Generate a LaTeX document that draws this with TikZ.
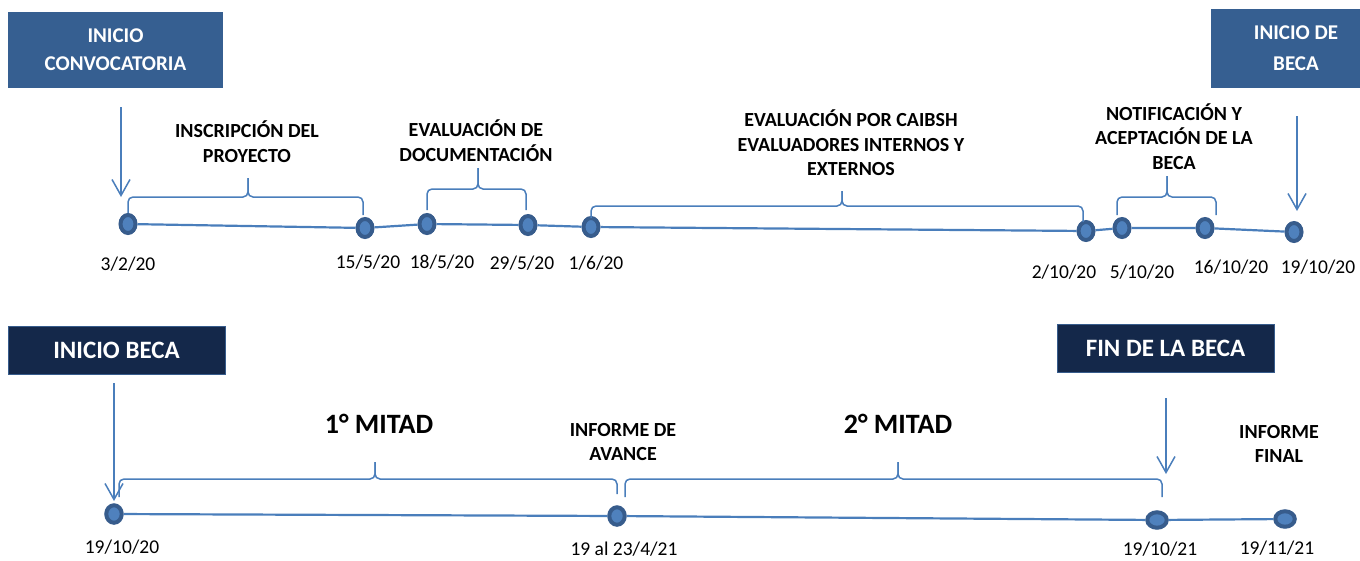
\documentclass[tikz,border=0pt]{standalone}
\usepackage{fontspec}
\setmainfont{Carlito}
\usetikzlibrary{arrows.meta,shapes.geometric}
\definecolor{boxblue}{HTML}{365F91}
\definecolor{navy}{HTML}{14284A}
\definecolor{lineblue}{HTML}{4A7EBB}
\definecolor{ringblue}{HTML}{375C8C}
\definecolor{innerblue}{HTML}{4F81BD}
\tikzset{
  lbl/.style={font=\bfseries\fontsize{20}{24.5}\selectfont, align=center, inner sep=0pt},
  biglbl/.style={font=\bfseries\fontsize{28}{32}\selectfont, inner sep=0pt},
  datelbl/.style={font=\fontsize{19.5}{22}\selectfont, inner sep=0pt},
  topbox/.style={fill=boxblue, text=white, align=center, inner sep=0pt},
  navybox/.style={fill=navy, draw=ringblue, line width=1pt, text=white, font=\bfseries\fontsize{25}{30}\selectfont, inner sep=0pt, minimum width=217pt, minimum height=48pt},
  dot/.style={ellipse, draw=ringblue, line width=4pt, fill=innerblue, inner sep=0pt, minimum width=15pt, minimum height=18pt},
  talldot/.style={dot, minimum width=15.5pt, minimum height=17.5pt},
  widedot/.style={dot, minimum width=19.5pt, minimum height=15.5pt},
  tl/.style={draw=lineblue, line width=2.2pt},
  brc/.style={draw=lineblue, line width=1.5pt, rounded corners=5pt},
  arr/.style={draw=lineblue, line width=1.5pt, -{Straight Barb[length=16pt,width=18pt,line width=1.5pt]}}
}
\begin{document}
\begin{tikzpicture}[x=1pt,y=-1pt]
\useasboundingbox (0,0) rectangle (1360,560);

% ---------- top boxes ----------
\node[topbox, minimum width=215pt, minimum height=76pt, font=\bfseries\fontsize{21}{28}\selectfont] (b1) at (115.5,50) {INICIO\\CONVOCATORIA};
\node[topbox, minimum width=170pt, minimum height=79pt, font=\bfseries\fontsize{21}{31}\selectfont] (b2) at (1296,48.5) {INICIO DE\\BECA};

% ---------- top timeline nodes ----------
\node[dot] (n1) at (128,224) {};
\node[dot] (n2) at (365,228) {};
\node[dot] (n3) at (427,224) {};
\node[dot] (n4) at (528,225) {};
\node[dot] (n5) at (591,227) {};
\node[dot] (n6) at (1086,231) {};
\node[dot] (n7) at (1122,228) {};
\node[dot] (n8) at (1205,228) {};
\node[dot] (n9) at (1294,232) {};
\draw[tl] (n1) -- (n2) -- (n3) -- (n4) -- (n5) -- (n6) -- (n7) -- (n8) -- (n9);

% dates top
\node[datelbl] (d1) at (128,264) {3/2/20};
\node[datelbl] (d2) at (368,262) {15/5/20};
\node[datelbl] (d3) at (442,262) {18/5/20};
\node[datelbl] (d4) at (522,263) {29/5/20};
\node[datelbl] (d5) at (596,263) {1/6/20};
\node[datelbl] (d6) at (1064,272) {2/10/20};
\node[datelbl] (d7) at (1142,272) {5/10/20};
\node[datelbl] (d8) at (1231,267) {16/10/20};
\node[datelbl] (d9) at (1318,267) {19/10/20};

% labels top
\node[lbl] (l1) at (247,141.5) {INSCRIPCIÓN DEL\\PROYECTO};
\node[lbl] (l2) at (476,140.5) {EVALUACIÓN DE\\DOCUMENTACIÓN};
\node[lbl] (l3) at (851,143) {EVALUACIÓN POR CAIBSH\\EVALUADORES INTERNOS Y\\EXTERNOS};
\node[lbl] (l4) at (1174,136.5) {NOTIFICACIÓN Y\\ACEPTACIÓN DE LA\\BECA};

% braces top
\draw[brc] (128,213) |- (248,197) -- (248,178);
\draw[brc] (363,215) |- (248,197) -- (248,178);
\draw[brc] (427,210) |- (478,189) -- (478,168);
\draw[brc] (526,210) |- (478,189) -- (478,168);
\draw[brc] (591,218) |- (842,206) -- (842,191);
\draw[brc] (1083,222) |- (842,206) -- (842,191);
\draw[brc] (1117,215) |- (1167,197) -- (1167,176);
\draw[brc] (1216,215) |- (1167,197) -- (1167,176);

% arrows top
\coordinate (a1s) at (121,107);
\coordinate (a1e) at (121,197);
\coordinate (a2s) at (1297,116);
\coordinate (a2e) at (1297,211);
\draw[arr] (a1s) -- (a1e);
\draw[arr] (a2s) -- (a2e);

% ---------- bottom ----------
\node[navybox] (b3) at (116.5,350) {INICIO BECA};
\node[navybox] (b4) at (1165.5,348) {FIN DE LA BECA};

\node[talldot] (m1) at (114,514) {};
\node[talldot] (m2) at (617,516) {};
\node[widedot] (m3) at (1157,520) {};
\node[widedot] (m4) at (1285,519) {};
\draw[tl] (m1) -- (m2) -- (m3) -- (m4);

\node[datelbl] (e1) at (122,547) {19/10/20};
\node[datelbl] (e2) at (624,549) {19 al 23/4/21};
\node[datelbl] (e3) at (1160,549.5) {19/10/21};
\node[datelbl] (e4) at (1277,548) {19/11/21};

\node[biglbl] (k1) at (379,424) {1° MITAD};
\node[biglbl] (k2) at (898,424) {2° MITAD};
\node[lbl] (k3) at (623,442) {INFORME DE\\AVANCE};
\node[lbl] (k4) at (1279,444) {INFORME\\FINAL};

\draw[brc] (119,497) |- (375,479) -- (375,462);
\draw[brc] (617,494) |- (375,479) -- (375,462);
\draw[brc] (625,497) |- (898,479) -- (898,462);
\draw[brc] (1162,497) |- (898,479) -- (898,462);

\coordinate (a3s) at (114,383);
\coordinate (a3e) at (114,501);
\coordinate (a4s) at (1166,398);
\coordinate (a4e) at (1166,474);
\draw[arr] (a3s) -- (a3e);
\draw[arr] (a4s) -- (a4e);
\end{tikzpicture}
\end{document}
